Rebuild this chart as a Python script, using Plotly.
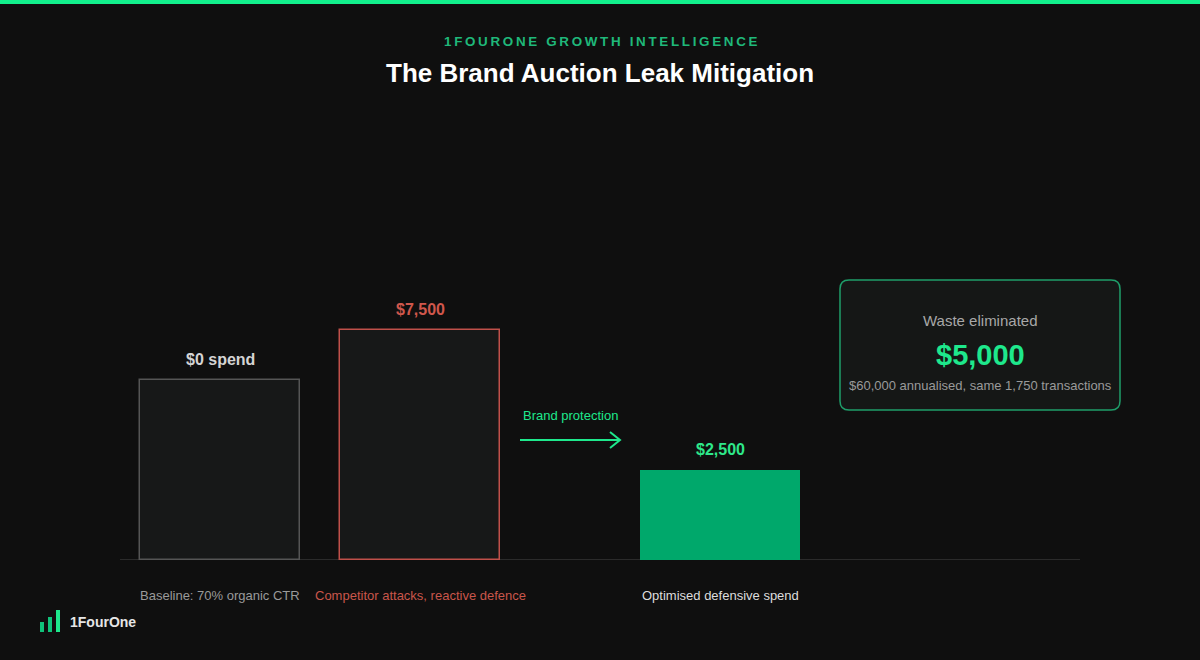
import plotly.graph_objects as go

# --- data ---
categories = ["Baseline: 70% organic CTR", "Competitor attacks, reactive defence", "Optimised defensive spend"]
value_labels = ["$0 spend", "$7,500", "$2,500"]
bar_heights = [180, 230, 90]          # displayed bar heights (visual units)
fill_colors = ["#171818", "#171818", "#00a86b"]
edge_colors = ["#555555", "#c0504a", "#00a86b"]
label_colors = ["#d4d4d4", "#d0574c", "#2ee88a"]
cat_colors = ["#9a9a9a", "#c9564b", "#dddddd"]
slots = [0, 1, 2.5]                   # bar slot positions on the x axis

saving_title = "Waste eliminated"
saving_value = "$5,000"
saving_note = "$60,000 annualised, same 1,750 transactions"

BG = "#0f0f0f"
GREEN = "#1ee88c"
FONT = "Liberation Sans, Arial, sans-serif"
W, H = 1200, 660


def px(x):
    return x / W


def py(y):
    return 1 - y / H


fig = go.Figure()

fig.add_trace(go.Bar(
    x=slots, y=bar_heights, width=0.8,
    marker=dict(color=fill_colors, line=dict(color=edge_colors, width=[1.5, 1.5, 0])),
    hoverinfo="skip", showlegend=False,
))

# value labels above bars
for xs, h, lab, col in zip(slots, bar_heights, value_labels, label_colors):
    fig.add_annotation(x=xs, y=h, text=f"<b>{lab}</b>", showarrow=False,
                       yanchor="bottom", yshift=10, font=dict(size=16, color=col, family=FONT))

# category labels below baseline
for xs, lab, col in zip(slots, categories, cat_colors):
    fig.add_annotation(x=xs, y=0, text=lab, showarrow=False, yanchor="middle",
                       yshift=-35, font=dict(size=13, color=col, family=FONT))

# baseline
fig.add_shape(type="line", xref="x", yref="y", x0=-0.5, x1=4.3, y0=0, y1=0,
              line=dict(color="#2b2b2b", width=2), layer="below")

# brand protection arrow
fig.add_shape(type="line", xref="x", yref="y", x0=1.5, x1=2.0, y0=120, y1=120,
              line=dict(color=GREEN, width=2))
fig.add_shape(type="path", xref="x", yref="y",
              path="M 1.95 128 L 2.0 120 L 1.95 112", line=dict(color=GREEN, width=2))
fig.add_annotation(x=1.75, y=145, text="Brand protection", showarrow=False, yanchor="middle",
                   font=dict(size=13, color=GREEN, family=FONT))

# savings box (rounded rectangle)
bx0, bx1, by0, by1, r = 840, 1120, 280, 410, 9
rx, ry = r / W, r / H
box_path = (
    f"M {px(bx0) + rx} {py(by0)} L {px(bx1) - rx} {py(by0)} "
    f"Q {px(bx1)} {py(by0)} {px(bx1)} {py(by0) - ry} "
    f"L {px(bx1)} {py(by1) + ry} Q {px(bx1)} {py(by1)} {px(bx1) - rx} {py(by1)} "
    f"L {px(bx0) + rx} {py(by1)} Q {px(bx0)} {py(by1)} {px(bx0)} {py(by1) + ry} "
    f"L {px(bx0)} {py(by0) - ry} Q {px(bx0)} {py(by0)} {px(bx0) + rx} {py(by0)} Z"
)
fig.add_shape(type="path", xref="paper", yref="paper", path=box_path,
              line=dict(color="#1f9e6a", width=1.5), fillcolor="#151716", layer="below")
for yy, txt, size, col in [(320, saving_title, 15, "#a8a8a8"),
                           (355, f"<b>{saving_value}</b>", 29, GREEN),
                           (385, saving_note, 13, "#9a9a9a")]:
    fig.add_annotation(xref="paper", yref="paper", x=px(980), y=py(yy), text=txt,
                       xanchor="center", yanchor="middle", showarrow=False,
                       font=dict(size=size, color=col, family=FONT))

# header
fig.add_shape(type="rect", xref="paper", yref="paper", x0=0, x1=1, y0=py(4), y1=1,
              line=dict(width=0), fillcolor="#12f08c")
kicker = "\u2009".join("1FOURONE GROWTH INTELLIGENCE")
fig.add_annotation(xref="paper", yref="paper", x=0.5, y=py(41), text=f"<b>{kicker}</b>",
                   xanchor="center", yanchor="middle", showarrow=False,
                   font=dict(size=13.4, color="#1fb87a", family=FONT))
fig.add_annotation(xref="paper", yref="paper", x=0.5, y=py(73),
                   text="<b>The Brand Auction Leak Mitigation</b>",
                   xanchor="center", yanchor="middle", showarrow=False,
                   font=dict(size=26, color="#ffffff", family=FONT))

# logo
for x0, y0, col in [(40, 622, "#10c27a"), (48, 617, "#10c27a"), (56, 610, "#1ee88c")]:
    fig.add_shape(type="rect", xref="paper", yref="paper",
                  x0=px(x0), x1=px(x0 + 4), y0=py(632), y1=py(y0),
                  line=dict(width=0), fillcolor=col)
fig.add_annotation(xref="paper", yref="paper", x=px(68), y=py(622), xanchor="left", yanchor="middle",
                   text="<b>1FourOne</b>", showarrow=False,
                   font=dict(size=14, color="#e6e6e6", family=FONT))

fig.update_layout(
    width=W, height=H,
    margin=dict(l=0, r=0, t=0, b=0),
    paper_bgcolor=BG, plot_bgcolor=BG,
    xaxis=dict(domain=[px(120), px(1080)], range=[-0.5, 4.3], visible=False, fixedrange=True),
    yaxis=dict(domain=[100 / H, 560 / H], range=[0, 460], visible=False, fixedrange=True),
    bargap=0,
)

fig.write_html("out.html", config={"displayModeBar": False},
               post_script="document.body.style.margin='0';document.body.style.background='#0f0f0f';")
